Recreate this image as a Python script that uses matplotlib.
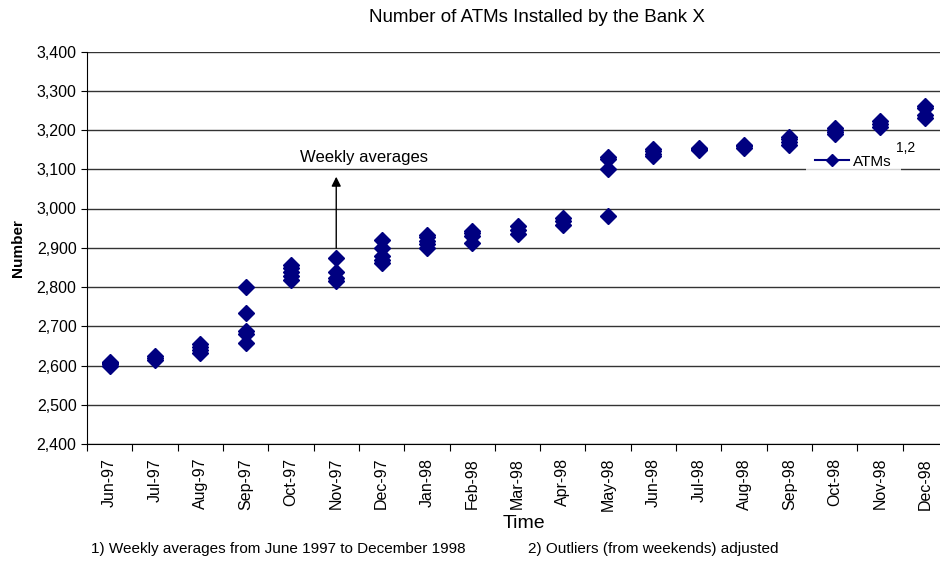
import matplotlib.pyplot as plt
import numpy as np

plt.rcParams['font.family'] = ['Liberation Sans', 'DejaVu Sans']

months = ['Jun-97', 'Jul-97', 'Aug-97', 'Sep-97', 'Oct-97', 'Nov-97', 'Dec-97',
          'Jan-98', 'Feb-98', 'Mar-98', 'Apr-98', 'May-98', 'Jun-98', 'Jul-98',
          'Aug-98', 'Sep-98', 'Oct-98', 'Nov-98', 'Dec-98']

# weekly averages per month
weekly_atms = [
    [2598, 2603, 2607, 2610],
    [2615, 2620, 2624],
    [2632, 2640, 2648, 2655],
    [2658, 2680, 2688, 2735, 2800],
    [2818, 2828, 2838, 2848, 2857],
    [2815, 2822, 2838, 2873],
    [2860, 2870, 2880, 2900, 2920],
    [2900, 2910, 2918, 2928, 2933],
    [2912, 2930, 2938, 2943],
    [2935, 2945, 2955],
    [2958, 2968, 2975],
    [2980, 3100, 3125, 3130],
    [3133, 3140, 3147, 3152],
    [3148, 3152, 3155],
    [3153, 3158, 3162],
    [3163, 3170, 3178, 3182],
    [3190, 3195, 3200, 3206],
    [3208, 3215, 3222],
    [3230, 3238, 3255, 3262],
]

xs = []
ys = []
for i, vals in enumerate(weekly_atms):
    for v in vals:
        xs.append(i + 0.5)
        ys.append(v)

fig = plt.figure(figsize=(9.4, 5.64), dpi=100)
ax = fig.add_axes([87 / 940, 1 - 444 / 564, 861 / 940, (444 - 51.5) / 564])

ax.plot(xs, ys, linestyle='none', marker='D', markersize=8,
        color='#000080', label='ATMs', zorder=3)

ax.set_xlim(0, 19)
ax.set_ylim(2400, 3400)
ax.set_yticks(np.arange(2400, 3401, 100))
ax.set_yticklabels([f'{v:,}' for v in range(2400, 3401, 100)], fontsize=11.5)
ax.yaxis.grid(True, color='#333333', linewidth=1)
ax.set_axisbelow(True)

ax.set_xticks(np.arange(0, 20))
ax.set_xticklabels([])
ax.set_xticks(np.arange(len(months)) + 0.5, minor=True)
ax.set_xticklabels(months, minor=True, rotation=90, fontsize=11.5)
ax.tick_params(axis='x', which='minor', length=0, pad=10)
ax.tick_params(axis='x', which='major', direction='out', length=5)
ax.tick_params(axis='y', direction='out', length=4)

for s in ['top', 'right']:
    ax.spines[s].set_visible(False)
for s in ['left', 'bottom']:
    ax.spines[s].set_color('black')

fig.text(524 / 940, 1 - 524 / 564, 'Time', fontsize=14, ha='center', va='center')
fig.text(18 / 940, 1 - 248 / 564, 'Number', rotation=90, fontsize=11,
         fontweight='bold', ha='center', va='center')
fig.text(537 / 940, 1 - 18 / 564, 'Number of ATMs Installed by the Bank X',
         fontsize=13.5, ha='center', va='center')

ax.annotate('', xy=(5.5, 3088), xytext=(5.5, 2892),
            arrowprops=dict(arrowstyle='-|>', color='black', lw=1,
                            mutation_scale=14))
ax.text(4.7, 3130, 'Weekly averages', fontsize=12, ha='left', va='center')

leg = ax.legend(loc='lower left', bbox_to_anchor=(806 / 940, 1 - 178 / 564),
                bbox_transform=fig.transFigure, frameon=True, fontsize=11,
                handlelength=2.2, handletextpad=0.3, borderpad=0.6,
                borderaxespad=0)
leg.get_frame().set_facecolor('white')
leg.get_frame().set_edgecolor('none')
leg.get_frame().set_boxstyle('square', pad=0)
leg.get_lines()[0].set_linestyle('-')
leg.get_lines()[0].set_markersize(6)
leg.set_zorder(5)
fig.text(896 / 940, 1 - 148 / 564, '1,2', fontsize=10, ha='left', va='center')

fig.text(91 / 940, 1 - 549 / 564,
         '1) Weekly averages from June 1997 to December 1998',
         fontsize=11, ha='left', va='center')
fig.text(528 / 940, 1 - 549 / 564, '2) Outliers (from weekends) adjusted',
         fontsize=11, ha='left', va='center')

fig.savefig('out.png', dpi=100)
